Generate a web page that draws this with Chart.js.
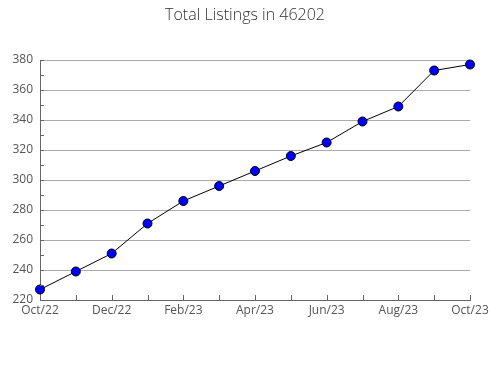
<!DOCTYPE html>
<html>
<head>
<meta charset="utf-8">
<script src="https://cdn.jsdelivr.net/npm/chart.js@4.4.0/dist/chart.umd.min.js"></script>
<style>
  html, body { margin: 0; padding: 0; background: #fff; }
  #wrap { width: 490px; height: 380px; }
</style>
</head>
<body>
<div id="wrap"><canvas id="myChart" width="490" height="380"></canvas></div>
<script>
// data
let chartTitle = 'Total Listings in 46202';
let months = ['Oct/22', 'Nov/22', 'Dec/22', 'Jan/23', 'Feb/23', 'Mar/23', 'Apr/23',
              'May/23', 'Jun/23', 'Jul/23', 'Aug/23', 'Sep/23', 'Oct/23'];
let listings = [227, 239, 251, 271, 286, 296, 306, 316, 325, 339, 349, 373, 377];
let yMin = 220;
let yMax = 380;

// title centred on the whole canvas (the built-in one centres on the padded box)
const pageTitle = {
    id: 'pageTitle',
    afterDraw(chart) {
        const ctx = chart.ctx;
        ctx.save();
        ctx.fillStyle = '#333';
        ctx.font = '300 16px "Open Sans"';
        ctx.textAlign = 'center';
        ctx.textBaseline = 'middle';
        ctx.fillText(chartTitle, chart.width / 2, 15);
        ctx.restore();
    }
};

// small tick marks pointing into the plot, like the original
const innerTicks = {
    id: 'innerTicks',
    afterDraw(chart) {
        const ctx = chart.ctx;
        const x = chart.scales.x;
        const y = chart.scales.y;
        const area = chart.chartArea;
        ctx.save();
        ctx.strokeStyle = '#666';
        ctx.lineWidth = 1;
        ctx.beginPath();
        for (let i = 0; i < months.length; i++) {
            const px = Math.round(x.getPixelForValue(i)) + 0.5;
            ctx.moveTo(px, area.bottom);
            ctx.lineTo(px, area.bottom - 5);
        }
        for (let v = yMin; v <= yMax; v += 10) {
            const py = Math.round(y.getPixelForValue(v)) + 0.5;
            ctx.moveTo(area.left, py);
            ctx.lineTo(area.left + 4, py);
        }
        ctx.stroke();
        ctx.restore();
    }
};

let myChart = document.getElementById('myChart').getContext('2d');
let lineChart = new Chart(myChart, {
    type: 'line',
    data: {
        labels: months,
        datasets: [{
            label: 'Total Listings',
            data: listings,
            borderColor: '#000',
            borderWidth: 1,
            backgroundColor: '#0000ff',
            pointBackgroundColor: '#0000ff',
            pointBorderColor: '#000',
            pointBorderWidth: 1,
            pointRadius: 4.5,
            tension: 0,
            clip: false
        }]
    },
    options: {
        responsive: false,
        animation: false,
        layout: { padding: { left: 0, right: 20, top: 60, bottom: 0 } },
        plugins: {
            legend: { display: false },
            tooltip: { enabled: false },
            title: { display: false }
        },
        scales: {
            x: {
                offset: false,
                grid: { color: 'transparent', drawTicks: false },
                border: { color: '#666' },
                ticks: {
                    color: '#555',
                    font: { family: 'Open Sans', size: 12 },
                    padding: 3,
                    maxRotation: 0,
                    autoSkip: false,
                    callback: function(val, i) { return i % 2 === 0 ? months[i] : ''; }
                },
                afterFit: function(scale) {
                    scale.height = 80;
                    scale.paddingLeft = 0;
                    scale.paddingRight = 0;
                }
            },
            y: {
                min: yMin,
                max: yMax,
                grid: {
                    drawTicks: false,
                    color: function(c) { return c.tick && c.tick.value % 20 === 0 ? '#aaa' : 'transparent'; }
                },
                border: { color: '#666' },
                ticks: {
                    stepSize: 10,
                    color: '#555',
                    font: { family: 'Open Sans', size: 12 },
                    padding: 7,
                    callback: function(v) { return v % 20 === 0 ? v : ''; }
                },
                afterFit: function(scale) { scale.width = 40; }
            }
        }
    },
    plugins: [innerTicks, pageTitle]
});
</script>
</body>
</html>
